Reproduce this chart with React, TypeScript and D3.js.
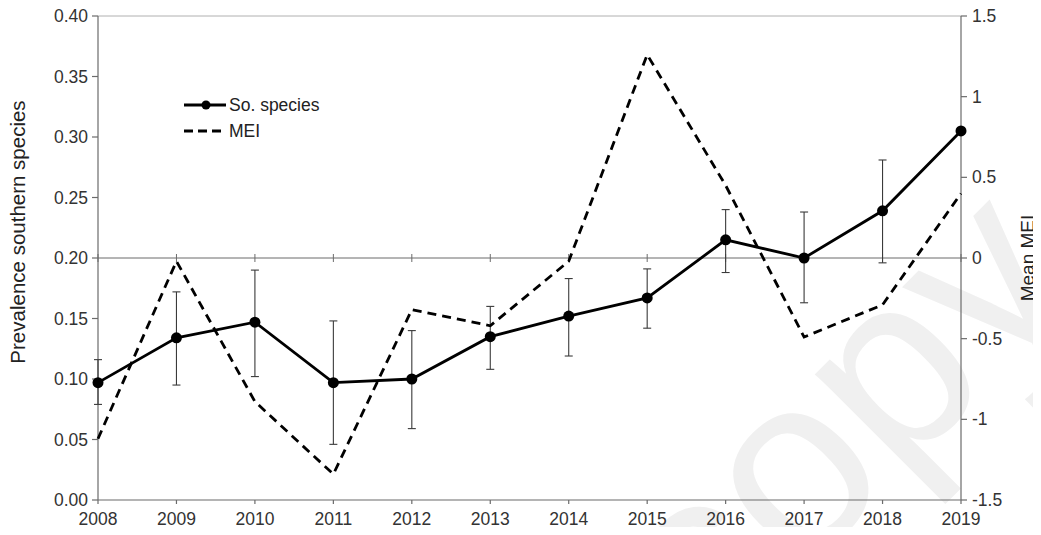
import React from "react";
import * as d3 from "d3";

const years = [2008, 2009, 2010, 2011, 2012, 2013, 2014, 2015, 2016, 2017, 2018, 2019];
const soSpecies = [0.097, 0.134, 0.147, 0.097, 0.100, 0.135, 0.152, 0.167, 0.215, 0.200, 0.239, 0.305];
const soErrLow = [0.079, 0.095, 0.102, 0.046, 0.059, 0.108, 0.119, 0.142, 0.188, 0.163, 0.196, 0.305];
const soErrHigh = [0.116, 0.172, 0.190, 0.148, 0.140, 0.160, 0.183, 0.191, 0.240, 0.238, 0.281, 0.305];
const mei = [-1.12, -0.02, -0.89, -1.34, -0.32, -0.42, -0.02, 1.26, 0.45, -0.49, -0.29, 0.40];
const leftTicks = [0, 0.05, 0.1, 0.15, 0.2, 0.25, 0.3, 0.35, 0.4];
const rightTicks = [-1.5, -1, -0.5, 0, 0.5, 1, 1.5];

const W = 1041, H = 535;
const M = { left: 98, right: 961, top: 16, bottom: 500 };
const FONT = "'Liberation Sans', Arial, sans-serif";

export default function App() {
  const x = d3.scaleLinear().domain([2008, 2019]).range([M.left, M.right]);
  const yL = d3.scaleLinear().domain([0, 0.4]).range([M.bottom, M.top]);
  const yR = d3.scaleLinear().domain([-1.5, 1.5]).range([M.bottom, M.top]);
  const soLine = d3.line<number>().x((_, i) => x(years[i])).y((d) => yL(d));
  const meiLine = d3.line<number>().x((_, i) => x(years[i])).y((d) => yR(d));
  const axisCol = "#6b6b6b";
  const textCol = "#333";
  const fs = 17.5;
  return (
    <div style={{ margin: -8, lineHeight: 0 }}>
      <svg width={W} height={H} style={{ display: "block", background: "#fff" }} fontFamily={FONT}>
        {/* watermark */}
        <text x={0} y={0} transform="translate(710,666) rotate(-45)" fontSize={250} fill="#f0f0f0" fontFamily={FONT}>
          copy
        </text>
        {/* top border */}
        <line x1={M.left} x2={M.right} y1={M.top} y2={M.top} stroke="#b0b0b0" strokeWidth={1} />
        {/* left axis */}
        <line x1={M.left} x2={M.left} y1={M.top} y2={M.bottom} stroke={axisCol} strokeWidth={1.2} />
        {leftTicks.map((t) => (
          <g key={"l" + t}>
            <line x1={M.left - 6} x2={M.left} y1={yL(t)} y2={yL(t)} stroke={axisCol} strokeWidth={1.2} />
            <text x={M.left - 10} y={yL(t)} dy="0.35em" textAnchor="end" fontSize={fs} fill={textCol}>
              {t.toFixed(2)}
            </text>
          </g>
        ))}
        {/* right axis */}
        <line x1={M.right} x2={M.right} y1={M.top} y2={M.bottom} stroke={axisCol} strokeWidth={1.2} />
        {rightTicks.map((t) => (
          <g key={"r" + t}>
            <line x1={M.right} x2={M.right + 6} y1={yR(t)} y2={yR(t)} stroke={axisCol} strokeWidth={1.2} />
            <text x={M.right + 11} y={yR(t)} dy="0.35em" textAnchor="start" fontSize={fs} fill={textCol}>
              {String(t)}
            </text>
          </g>
        ))}
        {/* bottom axis */}
        <line x1={M.left} x2={M.right} y1={M.bottom} y2={M.bottom} stroke={axisCol} strokeWidth={1.2} />
        {years.map((yr) => (
          <g key={"b" + yr}>
            <line x1={x(yr)} x2={x(yr)} y1={M.bottom} y2={M.bottom + 4} stroke={axisCol} strokeWidth={1.2} />
            <text x={x(yr)} y={M.bottom + 25} textAnchor="middle" fontSize={fs} fill={textCol}>
              {yr}
            </text>
          </g>
        ))}
        {/* MEI zero axis */}
        <line x1={M.left} x2={M.right} y1={yR(0)} y2={yR(0)} stroke={axisCol} strokeWidth={1} />
        {years.map((yr) => (
          <line key={"z" + yr} x1={x(yr)} x2={x(yr)} y1={yR(0) - 4} y2={yR(0) + 4} stroke={axisCol} strokeWidth={1} />
        ))}
        {/* axis titles */}
        <text transform="translate(25,232) rotate(-90)" textAnchor="middle" fontSize={20.5} fill="#222">
          Prevalence southern species
        </text>
        <text
          transform={`translate(1034,${(M.top + M.bottom) / 2}) rotate(-90)`}
          textAnchor="middle"
          fontSize={19}
          fill="#222"
        >
          Mean MEI
        </text>
        {/* error bars */}
        {years.map((yr, i) =>
          soErrHigh[i] - soErrLow[i] > 0.001 ? (
            <g key={"e" + yr} stroke="#3a3a3a" strokeWidth={1.1}>
              <line x1={x(yr)} x2={x(yr)} y1={yL(soErrLow[i])} y2={yL(soErrHigh[i])} />
              <line x1={x(yr) - 4} x2={x(yr) + 4} y1={yL(soErrLow[i])} y2={yL(soErrLow[i])} />
              <line x1={x(yr) - 4} x2={x(yr) + 4} y1={yL(soErrHigh[i])} y2={yL(soErrHigh[i])} />
            </g>
          ) : null
        )}
        {/* MEI dashed */}
        <path d={meiLine(mei) || ""} fill="none" stroke="#000" strokeWidth={2.8} strokeDasharray="9,6" />
        {/* So. species */}
        <path d={soLine(soSpecies) || ""} fill="none" stroke="#000" strokeWidth={2.8} />
        {soSpecies.map((v, i) => (
          <circle key={"c" + i} cx={x(years[i])} cy={yL(v)} r={5.5} fill="#000" />
        ))}
        {/* legend */}
        <g>
          <line x1={184} x2={226} y1={105} y2={105} stroke="#000" strokeWidth={2.8} />
          <circle cx={206} cy={105} r={4.5} fill="#000" />
          <text x={229} y={105} dy="0.35em" fontSize={fs} fill="#222">
            So. species
          </text>
          <line x1={184} x2={224} y1={131} y2={131} stroke="#000" strokeWidth={2.8} strokeDasharray="9,5" />
          <text x={229} y={131} dy="0.35em" fontSize={fs} fill="#222">
            MEI
          </text>
        </g>
      </svg>
    </div>
  );
}
